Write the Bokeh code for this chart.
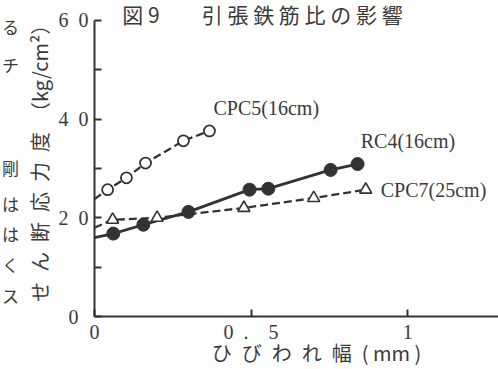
from bokeh.plotting import figure
from bokeh.models import Range1d, FixedTicker, Label
from bokeh.layouts import row
from bokeh.core.properties import value
from bokeh.embed import file_html
from bokeh.resources import INLINE

# ---- data ----
cpc5_x = [0.042, 0.102, 0.163, 0.284, 0.367]
cpc5_y = [25.7, 28.1, 31.1, 35.6, 37.6]
cpc5_y0 = 23.8  # line start at the y axis

rc4_x = [0.060, 0.156, 0.300, 0.495, 0.555, 0.754, 0.840]
rc4_y = [16.8, 18.6, 21.2, 25.7, 25.9, 29.7, 30.9]
rc4_y0 = 16.0

cpc7_x = [0.058, 0.200, 0.477, 0.700, 0.866]
cpc7_y = [19.6, 20.0, 22.0, 24.0, 25.7]
cpc7_y0 = 18.0

series_names = ["CPC5(16cm)", "RC4(16cm)", "CPC7(25cm)"]
y_ticks = [0, 20, 40, 60]
y_minor = [10, 30, 50]
y_tick_labels = {0: "0\u2002", 20: "2\u20020", 40: "4\u20020", 60: "6\u20020"}
x_ticks = [0, 0.5, 1]
x_tick_labels = {0: "0", 0.5: "0\u2002.\u20035", 1: "1"}
title_text = "図 9\u3000\u3000引 張 鉄 筋 比 の 影 響"
x_title = "\u3000\u2002\u2002ひ\u2002び\u2002わ\u2002れ\u2002幅\u2002( mm )"
y_title = "せ\u2002ん\u2002断\u2002応\u2002力\u2002度\u2002（kg/cm²）"
# fragments of the neighbouring text column (left page edge)
margin_chars = ["る", "チ", "剛", "は", "は", "く", "ス"]
margin_row = [30, 75, 195, 237, 272, 308, 344]  # rows, counted from the top

INK = "#333333"
TXT = "#3a3a3a"
SERIF = "Liberation Serif"
CJK = "Noto Sans CJK JP"
H = 369

# narrow strip holding the neighbouring column's characters
m = figure(width=20, height=H, output_backend="svg", toolbar_location=None,
           x_range=Range1d(0, 20), y_range=Range1d(H, 0),
           min_border=0, outline_line_color=None,
           background_fill_color="white", border_fill_color="white")
m.axis.visible = False
m.grid.visible = False
m.text(x=[10] * len(margin_chars), y=margin_row, text=margin_chars,
       text_font=value(CJK), text_font_size="17px", text_color=TXT,
       text_align="center", text_baseline="middle")

p = figure(width=478, height=H, output_backend="svg", toolbar_location=None,
           x_range=Range1d(0, 1.29), y_range=Range1d(0, 64.04),
           min_border_left=74, min_border_right=0, min_border_top=0,
           min_border_bottom=52, background_fill_color="white",
           border_fill_color="white", outline_line_color=None)
p.grid.visible = False

# axes
xa = p.xaxis[0]
xa.ticker = FixedTicker(ticks=x_ticks)
xa.major_label_overrides = x_tick_labels
xa.axis_label = x_title
ya = p.yaxis[0]
ya.ticker = FixedTicker(ticks=y_ticks, minor_ticks=y_minor)
ya.major_label_overrides = y_tick_labels
ya.axis_label = y_title
ya.bounds = (0, 60)
for ax in (xa, ya):
    ax.axis_line_color = INK
    ax.axis_line_width = 2
    ax.major_tick_line_color = INK
    ax.major_tick_line_width = 2
    ax.major_tick_in = 7
    ax.major_tick_out = 0
    ax.minor_tick_line_color = INK
    ax.minor_tick_line_width = 2
    ax.minor_tick_in = 7
    ax.minor_tick_out = 0
    ax.major_label_text_font = SERIF
    ax.major_label_text_font_size = "20px"
    ax.major_label_text_color = TXT
    ax.axis_label_text_font = CJK
    ax.axis_label_text_font_style = "normal"
    ax.axis_label_text_color = TXT
    ax.axis_label_text_font_size = "20px"
xa.minor_tick_line_color = None
xa.major_label_standoff = 4
xa.axis_label_standoff = -8
ya.major_label_standoff = 6
ya.axis_label_standoff = 2

# series
p.line([0] + cpc5_x, [cpc5_y0] + cpc5_y, line_color=INK, line_width=2.3, line_dash="8 4")
p.scatter(cpc5_x, cpc5_y, marker="circle", size=11, fill_color="white",
          line_color=INK, line_width=1.8)

p.line([0] + rc4_x, [rc4_y0] + rc4_y, line_color=INK, line_width=2.8)
p.scatter(rc4_x, rc4_y, marker="circle", size=13, fill_color=INK, line_color=INK)

p.line([0] + cpc7_x, [cpc7_y0] + cpc7_y, line_color=INK, line_width=2.3, line_dash="8 4")
p.scatter(cpc7_x, cpc7_y, marker="triangle", size=12, fill_color="white",
          line_color=INK, line_width=1.6)

# series labels
for name, (lx, ly) in zip(series_names, [(0.380, 42.2), (0.850, 35.6), (0.914, 25.7)]):
    p.add_layout(Label(x=lx, y=ly, text=name, text_font=SERIF, text_font_size="20px",
                       text_color=TXT, text_baseline="middle", text_align="left"))

# figure title (top edge)
p.add_layout(Label(x=0.089, y=61.3, text=title_text, text_font=CJK,
                   text_font_size="21px", text_color=TXT, text_baseline="middle",
                   text_align="left"))

open("out.html", "w").write(file_html(row(m, p), INLINE))
